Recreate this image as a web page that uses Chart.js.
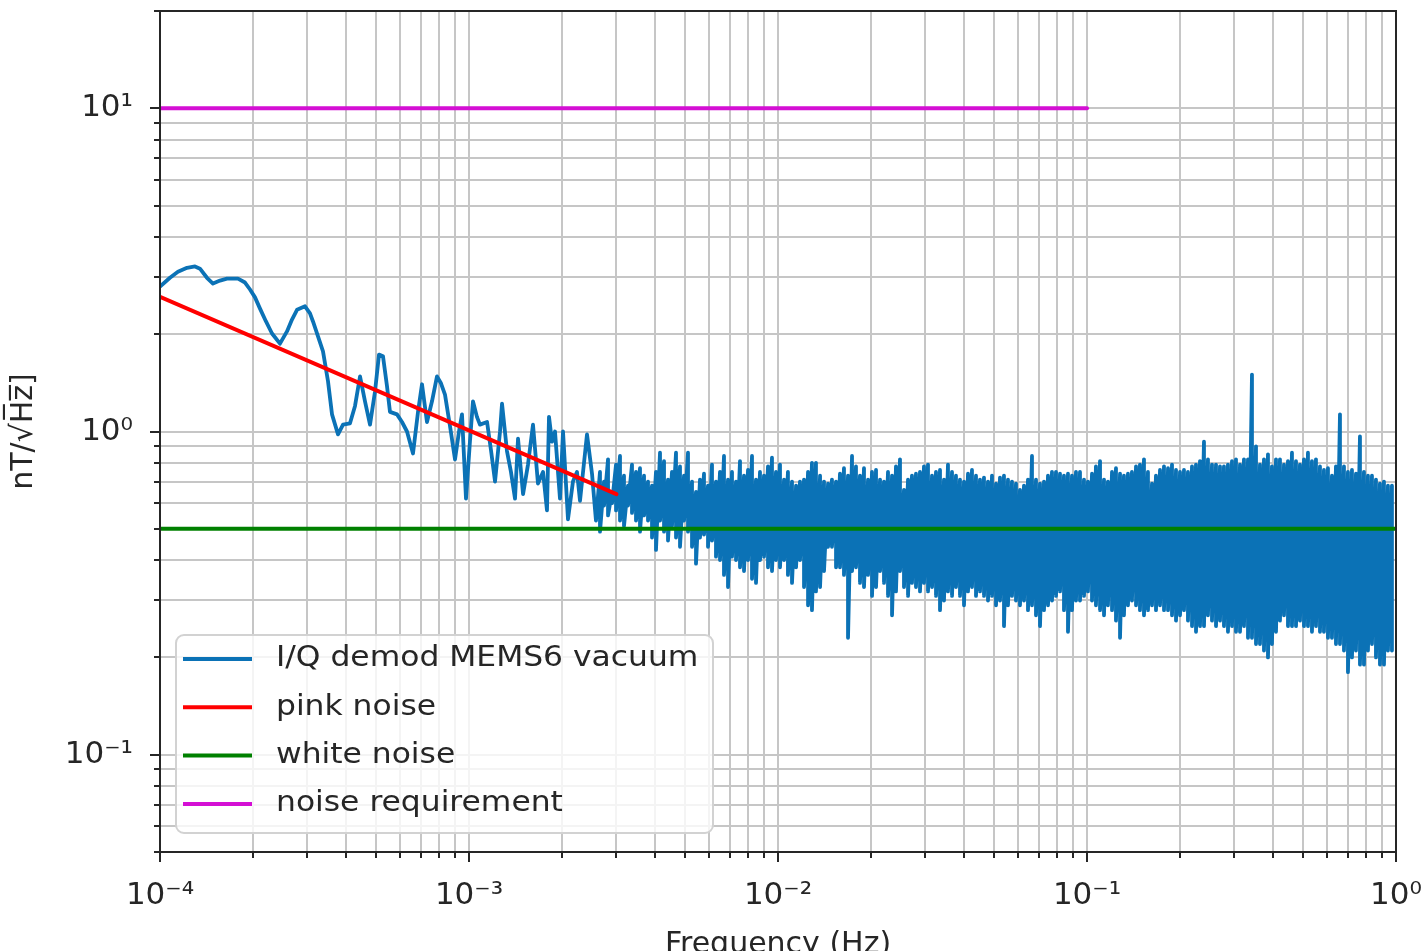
<!DOCTYPE html>
<html>
<head>
<meta charset="utf-8">
<script src="https://cdn.jsdelivr.net/npm/chart.js@4.4.1/dist/chart.umd.min.js"></script>
<style>
  html, body { margin: 0; padding: 0; background: #fff; }
  #wrap { width: 1422px; height: 951px; }
</style>
</head>
<body>
<div id="wrap"><canvas id="psdChart" width="1422" height="951"></canvas></div>
<script>
// low-frequency part of the measured spectrum (Hz, nT/sqrt(Hz))
const lowFreq = [
  1.000e-4, 1.077e-4, 1.143e-4, 1.223e-4, 1.298e-4, 1.347e-4, 1.419e-4, 1.484e-4, 1.564e-4, 1.647e-4,
  1.788e-4, 1.884e-4, 1.956e-4, 2.030e-4, 2.107e-4, 2.203e-4, 2.304e-4, 2.445e-4, 2.576e-4, 2.674e-4,
  2.776e-4, 2.946e-4, 3.058e-4, 3.127e-4, 3.246e-4, 3.369e-4, 3.497e-4, 3.603e-4, 3.768e-4, 3.911e-4,
  4.120e-4, 4.277e-4, 4.439e-4, 4.607e-4, 4.782e-4, 4.964e-4, 5.114e-4, 5.268e-4, 5.428e-4, 5.550e-4,
  5.848e-4, 6.070e-4, 6.300e-4, 6.588e-4, 6.839e-4, 7.045e-4, 7.312e-4, 7.590e-4, 7.878e-4, 8.116e-4,
  8.362e-4, 8.679e-4, 9.010e-4, 9.282e-4, 9.491e-4, 9.779e-4, 1.007e-3, 1.030e-3, 1.061e-3, 1.085e-3,
  1.144e-3, 1.179e-3, 1.214e-3, 1.260e-3, 1.279e-3, 1.327e-3, 1.367e-3, 1.409e-3, 1.441e-3, 1.496e-3,
  1.552e-3, 1.611e-3, 1.672e-3, 1.736e-3, 1.788e-3, 1.815e-3, 1.856e-3, 1.898e-3, 1.970e-3, 2.015e-3,
  2.091e-3, 2.170e-3, 2.236e-3, 2.287e-3, 2.409e-3, 2.501e-3, 2.576e-3
];
const lowValue = [
  2.81, 2.99, 3.12, 3.21, 3.24, 3.19, 2.99, 2.87, 2.93, 2.97,
  2.97, 2.89, 2.75, 2.60, 2.40, 2.19, 2.01, 1.87, 2.04, 2.22,
  2.38, 2.44, 2.32, 2.19, 1.97, 1.77, 1.43, 1.13, 0.98, 1.05,
  1.06, 1.20, 1.48, 1.24, 1.05, 1.33, 1.73, 1.71, 1.38, 1.15,
  1.13, 1.07, 1.00, 0.855, 1.15, 1.40, 1.07, 1.24, 1.48, 1.41,
  1.30, 1.04, 0.82, 1.00, 1.13, 0.62, 0.93, 1.24, 1.11, 1.05,
  1.07, 0.87, 0.70, 1.00, 1.22, 0.87, 0.75, 0.62, 0.95, 0.64,
  0.79, 1.05, 0.69, 0.75, 0.57, 1.11, 0.93, 1.00, 0.62, 1.00,
  0.535, 0.70, 0.75, 0.61, 0.98, 0.74, 0.53
];

// dense part: at each frequency the trace swings from a high to a low value
const bandFreq = [
  2.654e-3, 2.735e-3, 2.818e-3, 2.903e-3, 2.991e-3, 3.081e-3, 3.174e-3, 3.270e-3, 3.369e-3, 3.471e-3,
  3.576e-3, 3.685e-3, 3.796e-3, 3.911e-3, 4.029e-3, 4.151e-3, 4.277e-3, 4.406e-3, 4.539e-3, 4.677e-3,
  4.818e-3, 4.964e-3, 5.114e-3, 5.269e-3, 5.428e-3, 5.592e-3, 5.761e-3, 5.936e-3, 6.115e-3, 6.300e-3,
  6.491e-3, 6.687e-3, 6.890e-3, 7.098e-3, 7.313e-3, 7.534e-3, 7.762e-3, 7.997e-3, 8.239e-3, 8.488e-3,
  8.745e-3, 9.009e-3, 9.282e-3, 9.562e-3, 9.852e-3,
  1.015e-2, 1.046e-2, 1.077e-2, 1.110e-2, 1.144e-2, 1.178e-2, 1.214e-2, 1.251e-2, 1.288e-2, 1.327e-2,
  1.368e-2, 1.409e-2, 1.452e-2, 1.495e-2, 1.541e-2, 1.587e-2, 1.635e-2, 1.685e-2, 1.736e-2, 1.788e-2,
  1.842e-2, 1.898e-2, 1.956e-2, 2.015e-2, 2.076e-2, 2.139e-2, 2.203e-2, 2.270e-2, 2.339e-2, 2.409e-2,
  2.482e-2, 2.557e-2, 2.635e-2, 2.714e-2, 2.796e-2, 2.881e-2, 2.968e-2, 3.058e-2, 3.151e-2, 3.246e-2,
  3.344e-2, 3.445e-2, 3.549e-2, 3.657e-2, 3.767e-2, 3.881e-2, 3.999e-2, 4.120e-2, 4.244e-2, 4.373e-2,
  4.505e-2, 4.641e-2, 4.782e-2, 4.927e-2, 5.076e-2, 5.229e-2, 5.387e-2, 5.550e-2, 5.718e-2, 5.891e-2,
  6.069e-2, 6.253e-2, 6.442e-2, 6.637e-2, 6.838e-2, 7.045e-2, 7.258e-2, 7.478e-2, 7.704e-2, 7.937e-2,
  8.177e-2, 8.424e-2, 8.679e-2, 8.942e-2, 9.212e-2, 9.491e-2, 9.778e-2,
  1.007e-1, 1.038e-1, 1.069e-1, 1.102e-1, 1.135e-1, 1.169e-1, 1.205e-1, 1.241e-1, 1.279e-1, 1.317e-1,
  1.357e-1, 1.398e-1, 1.441e-1, 1.484e-1, 1.529e-1, 1.575e-1, 1.623e-1, 1.672e-1, 1.723e-1, 1.775e-1,
  1.829e-1, 1.884e-1, 1.941e-1, 2.000e-1, 2.060e-1, 2.122e-1, 2.187e-1, 2.253e-1, 2.321e-1, 2.391e-1,
  2.463e-1, 2.538e-1, 2.615e-1, 2.694e-1, 2.775e-1, 2.859e-1, 2.946e-1, 3.035e-1, 3.127e-1, 3.221e-1,
  3.319e-1, 3.419e-1, 3.523e-1, 3.629e-1, 3.739e-1, 3.852e-1, 3.968e-1, 4.089e-1, 4.212e-1, 4.340e-1,
  4.471e-1, 4.606e-1, 4.746e-1, 4.889e-1, 5.037e-1, 5.189e-1, 5.346e-1, 5.508e-1, 5.675e-1, 5.846e-1,
  6.023e-1, 6.205e-1, 6.393e-1, 6.587e-1, 6.786e-1, 6.991e-1, 7.203e-1, 7.420e-1, 7.645e-1, 7.876e-1,
  8.114e-1, 8.360e-1, 8.613e-1, 8.873e-1, 9.142e-1, 9.418e-1, 9.703e-1
];
const bandHigh = [
  0.75, 0.70, 0.82, 0.65, 0.79, 0.84, 0.73, 0.68, 0.79, 0.75,
  0.77, 0.73, 0.70, 0.68, 0.75, 0.86, 0.81, 0.71, 0.75, 0.86,
  0.78, 0.73, 0.86, 0.70, 0.65, 0.71, 0.74, 0.68, 0.79, 0.70,
  0.75, 0.84, 0.71, 0.75, 0.70, 0.81, 0.73, 0.76, 0.84, 0.71,
  0.75, 0.73, 0.78, 0.83, 0.75, 0.79, 0.71, 0.75, 0.70, 0.68,
  0.70, 0.71, 0.75, 0.80, 0.80, 0.73, 0.70, 0.69, 0.71, 0.70,
  0.74, 0.77, 0.73, 0.84, 0.78, 0.73, 0.77, 0.71, 0.75, 0.76,
  0.71, 0.70, 0.75, 0.73, 0.78, 0.82, 0.66, 0.71, 0.73, 0.74,
  0.75, 0.78, 0.79, 0.73, 0.75, 0.76, 0.71, 0.79, 0.75, 0.73,
  0.71, 0.70, 0.74, 0.76, 0.73, 0.71, 0.72, 0.70, 0.73, 0.69,
  0.72, 0.73, 0.71, 0.70, 0.69, 0.66, 0.68, 0.71, 0.84, 0.71,
  0.69, 0.70, 0.73, 0.75, 0.75, 0.74, 0.73, 0.74, 0.73, 0.75,
  0.75, 0.71, 0.70, 0.74, 0.78, 0.81, 0.71, 0.70, 0.75, 0.77,
  0.74, 0.73, 0.74, 0.75, 0.78, 0.79, 0.82, 0.75, 0.69, 0.73,
  0.76, 0.78, 0.77, 0.79, 0.76, 0.75, 0.76, 0.75, 0.78, 0.79,
  0.81, 0.93, 0.82, 0.79, 0.79, 0.78, 0.78, 0.79, 0.81, 0.82,
  0.79, 0.82, 0.82, 1.50, 0.90, 0.79, 0.82, 0.85, 0.78, 0.82,
  0.82, 0.79, 0.81, 0.86, 0.81, 0.79, 0.82, 0.86, 0.81, 0.82,
  0.78, 0.76, 0.77, 0.73, 0.78, 1.13, 0.78, 0.75, 0.76, 0.74,
  0.965, 0.75, 0.73, 0.73, 0.71, 0.69, 0.70, 0.68, 0.68
];
const bandLow = [
  0.49, 0.59, 0.55, 0.60, 0.57, 0.53, 0.51, 0.59, 0.56, 0.53,
  0.49, 0.55, 0.53, 0.47, 0.43, 0.53, 0.49, 0.46, 0.51, 0.47,
  0.44, 0.53, 0.49, 0.44, 0.39, 0.47, 0.48, 0.44, 0.46, 0.41,
  0.40, 0.36, 0.33, 0.41, 0.40, 0.38, 0.37, 0.40, 0.35, 0.34,
  0.40, 0.41, 0.38, 0.37, 0.40, 0.38, 0.40, 0.36, 0.34, 0.38,
  0.40, 0.33, 0.29, 0.28, 0.32, 0.33, 0.37, 0.44, 0.44, 0.38,
  0.38, 0.36, 0.23, 0.37, 0.38, 0.34, 0.33, 0.36, 0.31, 0.33,
  0.37, 0.34, 0.31, 0.27, 0.32, 0.37, 0.33, 0.31, 0.34, 0.33,
  0.32, 0.34, 0.32, 0.33, 0.31, 0.28, 0.30, 0.32, 0.31, 0.33,
  0.31, 0.29, 0.32, 0.33, 0.31, 0.32, 0.31, 0.30, 0.31, 0.29,
  0.30, 0.25, 0.29, 0.31, 0.30, 0.29, 0.30, 0.28, 0.29, 0.27,
  0.25, 0.28, 0.29, 0.30, 0.31, 0.32, 0.28, 0.24, 0.28, 0.30,
  0.30, 0.31, 0.32, 0.30, 0.29, 0.28, 0.27, 0.29, 0.28, 0.26,
  0.23, 0.27, 0.29, 0.30, 0.29, 0.28, 0.27, 0.28, 0.29, 0.28,
  0.29, 0.28, 0.28, 0.27, 0.26, 0.27, 0.28, 0.26, 0.25, 0.24,
  0.25, 0.25, 0.27, 0.26, 0.25, 0.26, 0.25, 0.24, 0.25, 0.24,
  0.24, 0.25, 0.23, 0.23, 0.22, 0.22, 0.21, 0.20, 0.22, 0.24,
  0.26, 0.27, 0.25, 0.25, 0.25, 0.26, 0.25, 0.25, 0.24, 0.25,
  0.24, 0.24, 0.23, 0.23, 0.22, 0.22, 0.21, 0.18, 0.20, 0.21,
  0.19, 0.19, 0.21, 0.22, 0.20, 0.19, 0.19, 0.21, 0.21
];

// model lines
const pinkFreq = [1e-4, 3.0e-3];
const pinkValue = [2.61, 0.64];
const whiteFreq = [1e-4, 1];
const whiteValue = [0.5, 0.5];
const reqFreq = [1e-4, 0.1];
const reqValue = [10, 10];

const seriesNames = ['I/Q demod MEMS6 vacuum', 'pink noise', 'white noise', 'noise requirement'];
const seriesColors = ['#0b72b6', '#ff0000', '#008000', '#d40fd4'];

// axes
const xMin = 1e-4, xMax = 1;
const yMin = 0.05, yMax = 20;
const xDecades = [1e-4, 1e-3, 1e-2, 1e-1, 1];
const yDecades = [0.01, 0.1, 1, 10];
const tickSteps = [1, 2, 3, 4, 5, 6, 7, 8, 9];

const FONT = 'DejaVu Sans';
const TEXT = '#262626';

const sup = { '-': '\u207B', '0': '\u2070', '1': '\u00B9', '2': '\u00B2', '3': '\u00B3', '4': '\u2074' };
function powLabel(v) {
  const e = Math.log10(v);
  if (Math.abs(e - Math.round(e)) > 1e-6) return '';
  return '10' + String(Math.round(e)).split('').map(c => sup[c]).join('');
}
function buildTicks(decades, lo, hi) {
  const out = [];
  decades.forEach(d => tickSteps.forEach(s => {
    const v = Number((d * s).toPrecision(6));
    if (v >= lo * 0.999 && v <= hi * 1.001) out.push(v);
  }));
  return out.map(v => ({ value: v, major: powLabel(v) !== '' }));
}
function pairs(xs, ys) {
  return xs.map((x, i) => ({ x: x, y: ys[i] }));
}

// measured trace: low part point by point, then the dense band as high/low swings
const psdPoints = pairs(lowFreq, lowValue);
bandFreq.forEach((f, i) => {
  psdPoints.push({ x: f, y: bandHigh[i] });
  psdPoints.push({ x: f, y: bandLow[i] });
});

// frame + tick marks (major longer than minor)
const frameTicks = {
  id: 'frameTicks',
  afterDatasetsDraw(chart) {
    const ctx = chart.ctx;
    const a = chart.chartArea;
    ctx.save();
    ctx.strokeStyle = TEXT;
    ctx.lineWidth = 2;
    ctx.strokeRect(a.left, a.top, a.right - a.left, a.bottom - a.top);
    ctx.beginPath();
    chart.scales.x.ticks.forEach(t => {
      const px = Math.round(chart.scales.x.getPixelForValue(t.value));
      ctx.moveTo(px, a.bottom);
      ctx.lineTo(px, a.bottom + (t.major ? 10 : 6));
    });
    chart.scales.y.ticks.forEach(t => {
      const py = Math.round(chart.scales.y.getPixelForValue(t.value));
      ctx.moveTo(a.left, py);
      ctx.lineTo(a.left - (t.major ? 10 : 6), py);
    });
    ctx.stroke();
    ctx.restore();
  }
};

// matplotlib style legend box in the lower left of the axes
const boxLegend = {
  id: 'boxLegend',
  afterDatasetsDraw(chart) {
    const ctx = chart.ctx;
    const a = chart.chartArea;
    const left = a.left + 16, top = a.bottom - 217, w = 537, h = 198;
    ctx.save();
    ctx.beginPath();
    ctx.roundRect(left, top, w, h, 8);
    ctx.fillStyle = 'rgba(255,255,255,0.8)';
    ctx.fill();
    ctx.strokeStyle = '#d2d2d2';
    ctx.lineWidth = 2;
    ctx.stroke();
    seriesNames.forEach((name, i) => {
      const y = top + 24 + i * 48.3;
      ctx.beginPath();
      ctx.strokeStyle = seriesColors[i];
      ctx.lineWidth = 4;
      ctx.moveTo(left + 7, y);
      ctx.lineTo(left + 76, y);
      ctx.stroke();
      ctx.save();
      ctx.translate(left + 100, y);
      ctx.scale(1.12, 1);
      ctx.font = '28px "' + FONT + '"';
      ctx.fillStyle = TEXT;
      ctx.textBaseline = 'middle';
      ctx.fillText(name, 0, 0);
      ctx.restore();
    });
    ctx.restore();
  }
};

const lineStyle = {
  showLine: true,
  pointRadius: 0,
  borderWidth: 4,
  borderJoinStyle: 'round',
  borderCapStyle: 'round',
  fill: false
};

new Chart(document.getElementById('psdChart'), {
  type: 'scatter',
  data: {
    datasets: [
      Object.assign({ label: seriesNames[0], data: psdPoints, borderColor: seriesColors[0], order: 4 }, lineStyle, { borderWidth: 3.8 }),
      Object.assign({ label: seriesNames[1], data: pairs(pinkFreq, pinkValue), borderColor: seriesColors[1], order: 3 }, lineStyle),
      Object.assign({ label: seriesNames[2], data: pairs(whiteFreq, whiteValue), borderColor: seriesColors[2], order: 2 }, lineStyle),
      Object.assign({ label: seriesNames[3], data: pairs(reqFreq, reqValue), borderColor: seriesColors[3], order: 1 }, lineStyle)
    ]
  },
  options: {
    responsive: false,
    animation: false,
    events: [],
    layout: { padding: { top: 11, right: 26, bottom: 0, left: 0 } },
    plugins: {
      legend: { display: false },
      tooltip: { enabled: false }
    },
    scales: {
      x: {
        type: 'logarithmic',
        min: xMin,
        max: xMax,
        afterBuildTicks: s => { s.ticks = buildTicks(xDecades, xMin, xMax); },
        afterFit: s => { s.height = 99; s.paddingLeft = 0; s.paddingRight = 0; },
        grid: { color: '#c6c6c6', lineWidth: 2, drawTicks: false },
        border: { display: false },
        ticks: {
          autoSkip: false,
          maxRotation: 0,
          minRotation: 0,
          padding: 25,
          color: TEXT,
          font: { family: FONT, size: 31 },
          callback: v => powLabel(v)
        },
        title: {
          display: true,
          text: 'Frequency (Hz)',
          color: TEXT,
          font: { family: FONT, size: 30 },
          padding: { top: 0, bottom: -12 }
        }
      },
      y: {
        type: 'logarithmic',
        min: yMin,
        max: yMax,
        afterBuildTicks: s => { s.ticks = buildTicks(yDecades, yMin, yMax); },
        afterFit: s => { s.width = 160; s.paddingTop = 0; s.paddingBottom = 0; },
        grid: { color: '#c6c6c6', lineWidth: 2, drawTicks: false },
        border: { display: false },
        ticks: {
          autoSkip: false,
          padding: 27,
          color: TEXT,
          font: { family: FONT, size: 31 },
          callback: v => powLabel(v)
        },
        title: {
          display: true,
          text: 'nT/\u221AH\u0305z\u0305]',
          color: TEXT,
          font: { family: FONT, size: 30 },
          padding: { top: 6, bottom: 0 }
        }
      }
    }
  },
  plugins: [frameTicks, boxLegend]
});
</script>
</body>
</html>
